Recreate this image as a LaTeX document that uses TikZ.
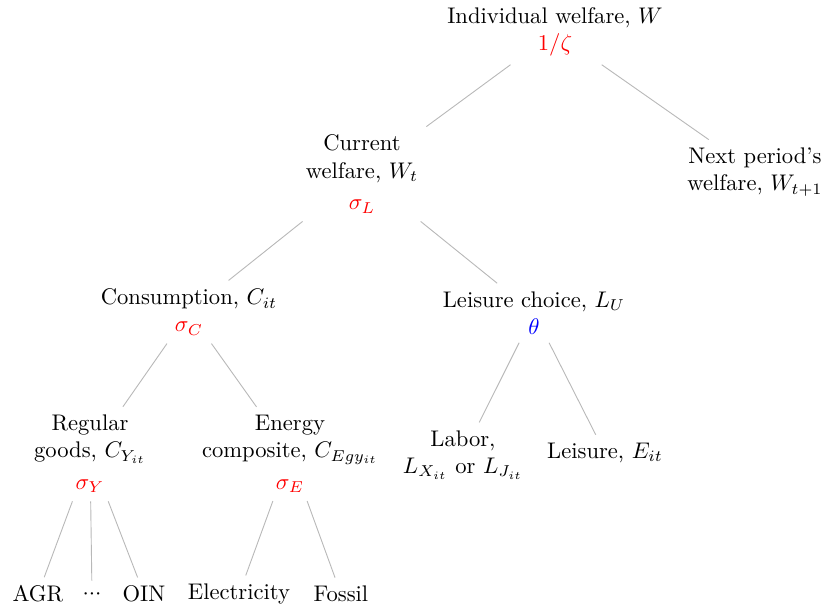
\documentclass[tikz,border=0pt]{standalone}
\begin{document}
\begin{tikzpicture}[x=0.4425pt,y=-0.4425pt,
  lab/.style={align=center, inner sep=3.5pt},
  edge/.style={draw=black!28, line width=0.4pt}]
\useasboundingbox (0,0) rectangle (829,609);
\node[lab] (W) at (555,32) {Individual welfare, $W$\\ \textcolor{red}{$1/\zeta$}};
\node[lab] (Wt) at (362,174) {Current\\ welfare, $W_t$\\[2pt] \textcolor{red}{$\sigma_L$}};
\node[lab] (Wn) at (755,172) {Next period’s\\ welfare, $W_{t+1}$};
\node[lab] (C) at (189,312) {Consumption, $C_{it}$\\ \textcolor{red}{$\sigma_C$}};
\node[lab] (LU) at (534,313) {Leisure choice, $L_U$\\ \textcolor{blue}{$\theta$}};
\node[lab] (CY) at (90,454) {Regular\\ goods, $C_{Y_{it}}$\\[2pt] \textcolor{red}{$\sigma_Y$}};
\node[lab] (CE) at (290,454) {Energy\\ composite, $C_{Egy_{it}}$\\[2pt] \textcolor{red}{$\sigma_E$}};
\node[lab] (LX) at (463,455) {Labor,\\ $L_{X_{it}}$ or $L_{J_{it}}$};
\node[lab] (E) at (605,453) {Leisure, $E_{it}$};
\node[lab] (AGR) at (38,594) {AGR};
\node[lab] (dots) at (92,594) {${\cdot}{\cdot}{\cdot}$};
\node[lab] (OIN) at (144,594) {OIN};
\node[lab] (El) at (239,594) {Electricity};
\node[lab] (Fo) at (341,594) {Fossil};
\path[edge] (W) -- (Wt);
\path[edge] (W) -- (Wn);
\path[edge] (Wt) -- (C);
\path[edge] (Wt) -- (LU);
\path[edge] (C) -- (CY);
\path[edge] (C) -- (CE);
\path[edge] (LU) -- (LX);
\path[edge] (LU) -- (E);
\path[edge] (CY) -- (AGR);
\path[edge] (CY) -- (dots);
\path[edge] (CY) -- (OIN);
\path[edge] (CE) -- (El);
\path[edge] (CE) -- (Fo);
\end{tikzpicture}
\end{document}
